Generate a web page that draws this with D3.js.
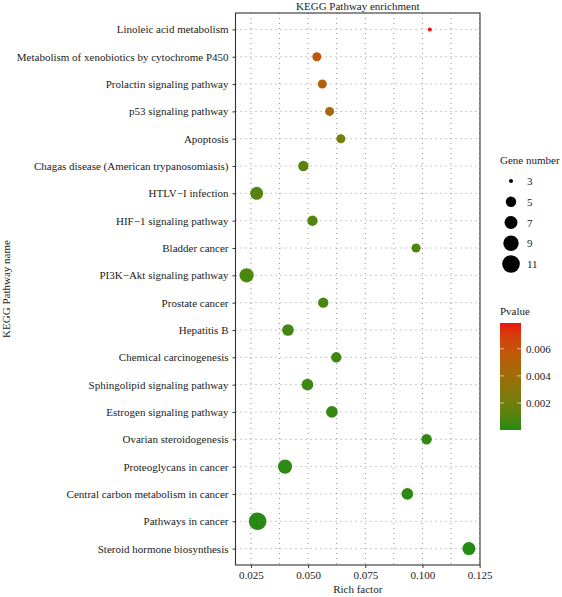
<!DOCTYPE html>
<html>
<head>
<meta charset="utf-8">
<script src="https://cdn.jsdelivr.net/npm/d3@7"></script>
<style>
  html, body { margin: 0; padding: 0; background: #fff; }
  svg text { font-family: "Liberation Serif", "DejaVu Serif", serif; fill: #222; }
</style>
</head>
<body>
<svg id="chart" width="562" height="597"></svg>
<script>
// ---- data (top to bottom) ----
const pathways = [
  "Linoleic acid metabolism",
  "Metabolism of xenobiotics by cytochrome P450",
  "Prolactin signaling pathway",
  "p53 signaling pathway",
  "Apoptosis",
  "Chagas disease (American trypanosomiasis)",
  "HTLV\u2212I infection",
  "HIF\u22121 signaling pathway",
  "Bladder cancer",
  "PI3K\u2212Akt signaling pathway",
  "Prostate cancer",
  "Hepatitis B",
  "Chemical carcinogenesis",
  "Sphingolipid signaling pathway",
  "Estrogen signaling pathway",
  "Ovarian steroidogenesis",
  "Proteoglycans in cancer",
  "Central carbon metabolism in cancer",
  "Pathways in cancer",
  "Steroid hormone biosynthesis"
];
const richFactor = [0.1032, 0.0538, 0.0562, 0.0594, 0.0643, 0.0479, 0.0275, 0.0519, 0.0972, 0.0231,
                    0.0566, 0.0412, 0.0623, 0.0497, 0.0604, 0.1018, 0.0399, 0.0934, 0.0279, 0.1203];
const geneNumber = [3, 4, 4, 4, 4, 5, 7, 5, 4, 8, 5, 6, 5, 6, 6, 5, 8, 6, 11, 7];
const pValue = [0.0079, 0.0058, 0.0052, 0.0043, 0.0023, 0.0012, 0.0011, 0.0010, 0.0009, 0.0008,
                0.0007, 0.0006, 0.0005, 0.0004, 0.0003, 0.00025, 0.0002, 0.00012, 0.00008, 0.00001];
const xTicks = [0.025, 0.050, 0.075, 0.100, 0.125];
const sizeBreaks = [3, 5, 7, 9, 11];
const pBreaks = [0.002, 0.004, 0.006];

const rows = pathways.map((p, i) => ({ name: p, rf: richFactor[i], n: geneNumber[i], p: pValue[i] }));

const svg = d3.select("#chart");
const panel = { left: 235.5, right: 480, top: 13, bottom: 565 };

// x scale with ggplot-like 5% expansion
const ext = d3.extent(richFactor);
const pad = (ext[1] - ext[0]) * 0.05;
const x = d3.scaleLinear().domain([ext[0] - pad, ext[1] + pad]).range([panel.left, panel.right]);
const y = d3.scalePoint().domain(pathways).range([panel.top, panel.bottom]).padding(0.6);
const r = d3.scaleLinear().domain([3, 4, 5, 7, 9, 11]).range([2, 4.5, 5.2, 6.5, 7.7, 8.8]);
const pExt = d3.extent(pValue);
const color = d3.scaleLinear().domain(pExt).range(["#238a14", "#e8150f"]).interpolate(d3.interpolateLab);

// grid (major + minor every 0.0125)
const grid = svg.append("g");
grid.selectAll("line.v").data(d3.range(0, 9).map(i => 0.025 + i * 0.0125).filter(v => v <= x.domain()[1]))
  .join("line")
  .attr("x1", d => x(d)).attr("x2", d => x(d))
  .attr("y1", panel.top).attr("y2", panel.bottom)
  .attr("stroke", "#8a8a8a").attr("stroke-width", 0.9).attr("stroke-dasharray", "1,4");
grid.selectAll("line.h").data(pathways).join("line")
  .attr("x1", panel.left).attr("x2", panel.right)
  .attr("y1", d => y(d)).attr("y2", d => y(d))
  .attr("stroke", "#8a8a8a").attr("stroke-width", 0.9).attr("stroke-dasharray", "1,4");

// points
svg.append("g").selectAll("circle").data(rows).join("circle")
  .attr("cx", d => x(d.rf)).attr("cy", d => y(d.name))
  .attr("r", d => r(d.n))
  .attr("fill", d => color(d.p));

// panel border
svg.append("rect")
  .attr("x", panel.left).attr("y", panel.top)
  .attr("width", panel.right - panel.left).attr("height", panel.bottom - panel.top)
  .attr("fill", "none").attr("stroke", "#333").attr("stroke-width", 1.1);

// axes
const xAxis = svg.append("g").attr("transform", `translate(0,${panel.bottom})`)
  .call(d3.axisBottom(x).tickValues(xTicks).tickFormat(d3.format(".3f")).tickSize(3).tickPadding(3));
const yAxis = svg.append("g").attr("transform", `translate(${panel.left},0)`)
  .call(d3.axisLeft(y).tickSize(3).tickPadding(4));
[xAxis, yAxis].forEach(a => {
  a.select(".domain").remove();
  a.selectAll(".tick line").attr("stroke", "#333");
  a.selectAll(".tick text").attr("font-size", 11).attr("fill", "#333")
    .attr("font-family", "Liberation Serif, serif");
});

// titles
svg.append("text").attr("x", (panel.left + panel.right) / 2).attr("y", 10)
  .attr("text-anchor", "middle").attr("font-size", 11).text("KEGG Pathway enrichment");
svg.append("text").attr("x", (panel.left + panel.right) / 2).attr("y", 593)
  .attr("text-anchor", "middle").attr("font-size", 11).text("Rich factor");
svg.append("text").attr("transform", `translate(10,${(panel.top + panel.bottom) / 2}) rotate(-90)`)
  .attr("text-anchor", "middle").attr("font-size", 11).text("KEGG Pathway name");

// size legend
const sl = svg.append("g");
sl.append("text").attr("x", 500).attr("y", 164).attr("font-size", 11).text("Gene number");
const sy = d3.scalePoint().domain(sizeBreaks).range([181, 264]);
sl.selectAll("circle").data(sizeBreaks).join("circle")
  .attr("cx", 511).attr("cy", d => sy(d)).attr("r", d => r(d)).attr("fill", "#000");
sl.selectAll("text.lab").data(sizeBreaks).join("text").attr("class", "lab")
  .attr("x", 527).attr("y", d => sy(d) + 4).attr("font-size", 11).text(d => d);

// colour bar legend
const cb = { x: 500, w: 21, top: 323, bottom: 430 };
svg.append("text").attr("x", 500).attr("y", 315).attr("font-size", 11).text("Pvalue");
const defs = svg.append("defs");
const grad = defs.append("linearGradient").attr("id", "pgrad").attr("x1", 0).attr("y1", 1).attr("x2", 0).attr("y2", 0);
d3.range(0, 1.0001, 0.1).forEach(t => {
  grad.append("stop").attr("offset", t).attr("stop-color", color(pExt[0] + t * (pExt[1] - pExt[0])));
});
svg.append("rect").attr("x", cb.x).attr("y", cb.top).attr("width", cb.w).attr("height", cb.bottom - cb.top)
  .attr("fill", "url(#pgrad)");
const cy = d3.scaleLinear().domain(pExt).range([cb.bottom, cb.top]);
const cbt = svg.append("g");
pBreaks.forEach(v => {
  cbt.append("line").attr("x1", cb.x).attr("x2", cb.x + 4).attr("y1", cy(v)).attr("y2", cy(v))
    .attr("stroke", "#fff").attr("stroke-opacity", 0.6).attr("stroke-width", 1);
  cbt.append("line").attr("x1", cb.x + cb.w - 4).attr("x2", cb.x + cb.w).attr("y1", cy(v)).attr("y2", cy(v))
    .attr("stroke", "#fff").attr("stroke-opacity", 0.6).attr("stroke-width", 1);
  cbt.append("text").attr("x", cb.x + cb.w + 5).attr("y", cy(v) + 4).attr("font-size", 11)
    .text(d3.format(".3f")(v));
});
</script>
</body>
</html>
